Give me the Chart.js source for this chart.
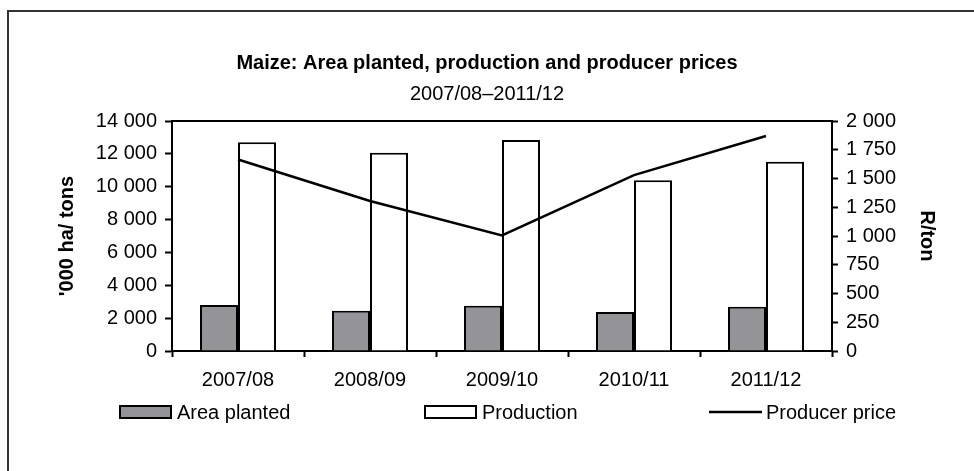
<!DOCTYPE html>
<html>
<head>
<meta charset="utf-8">
<script src="https://cdn.jsdelivr.net/npm/chart.js@4/dist/chart.umd.min.js"></script>
<style>
  html, body { margin: 0; padding: 0; background: #fff; }
  #wrap { position: relative; width: 974px; height: 471px; }
</style>
</head>
<body>
<div id="wrap"><canvas id="maizeChart" width="974" height="471"></canvas></div>
<script>
// seasons on the x axis
const seasons = ["2007/08", "2008/09", "2009/10", "2010/11", "2011/12"];
// '000 ha / '000 tons (left axis)
const areaPlanted = [2800, 2450, 2750, 2380, 2700];
const production = [12700, 12070, 12850, 10400, 11520];
// R/ton (right axis)
const producerPrice = [1665, 1305, 1005, 1530, 1870];

const leftTicks = [0, 2000, 4000, 6000, 8000, 10000, 12000, 14000];
const rightTicks = [0, 250, 500, 750, 1000, 1250, 1500, 1750, 2000];

const FONT = "'Liberation Sans', Arial, sans-serif";
Chart.defaults.font.family = FONT;
Chart.defaults.color = '#000';

function spaced(v) {
    return String(v).replace(/\B(?=(\d{3})+(?!\d))/g, ' ');
}

// outer frame + top edge of the plot area + legend
const extras = {
    id: 'extras',
    beforeDraw(chart) {
        const ctx = chart.ctx;
        ctx.save();
        ctx.strokeStyle = '#333';
        ctx.lineWidth = 2;
        ctx.beginPath();
        ctx.moveTo(8, 480);
        ctx.lineTo(8, 11);
        ctx.lineTo(980, 11);
        ctx.stroke();
        ctx.restore();
    },
    afterDraw(chart) {
        const ctx = chart.ctx;
        const a = chart.chartArea;
        ctx.save();
        ctx.strokeStyle = '#000';
        ctx.lineWidth = 2;
        ctx.beginPath();
        ctx.moveTo(a.left, a.top);
        ctx.lineTo(a.right, a.top);
        ctx.stroke();

        // legend
        const y = 412;
        const items = [
            { x: 120, ds: chart.data.datasets[1] },
            { x: 425, ds: chart.data.datasets[2] },
            { x: 709, ds: chart.data.datasets[0] }
        ];
        ctx.font = '20px ' + FONT;
        ctx.textBaseline = 'middle';
        items.forEach(it => {
            if (it.ds.type === 'line') {
                ctx.strokeStyle = '#000';
                ctx.lineWidth = 2.5;
                ctx.beginPath();
                ctx.moveTo(it.x, y);
                ctx.lineTo(it.x + 53, y);
                ctx.stroke();
            } else {
                ctx.fillStyle = it.ds.backgroundColor;
                ctx.fillRect(it.x, y - 6, 51, 12);
                ctx.strokeStyle = '#000';
                ctx.lineWidth = 2;
                ctx.strokeRect(it.x, y - 6, 51, 12);
            }
            ctx.fillStyle = '#000';
            ctx.fillText(it.ds.label, it.x + 57, y + 1);
        });
        ctx.restore();
    }
};

const el = document.getElementById("maizeChart");
let maizeChart = new Chart(el, {
    data: {
        labels: seasons,
        datasets: [{
            type: 'line',
            label: 'Producer price',
            data: producerPrice,
            yAxisID: 'y1',
            borderColor: '#000',
            borderWidth: 2.5,
            pointRadius: 0,
            tension: 0,
            order: 0
        }, {
            type: 'bar',
            label: 'Area planted',
            data: areaPlanted,
            yAxisID: 'y',
            backgroundColor: '#939398',
            borderColor: '#000',
            borderWidth: 2,
            categoryPercentage: 0.576,
            barPercentage: 1,
            order: 1
        }, {
            type: 'bar',
            label: 'Production',
            data: production,
            yAxisID: 'y',
            backgroundColor: '#fff',
            borderColor: '#000',
            borderWidth: 2,
            categoryPercentage: 0.576,
            barPercentage: 1,
            order: 1
        }]
    },
    options: {
        responsive: false,
        animation: false,
        layout: { padding: 0 },
        plugins: {
            legend: { display: false },
            tooltip: { enabled: false },
            title: {
                display: true,
                text: 'Maize: Area planted, production and producer prices',
                font: { size: 20, weight: 'bold' },
                color: '#000',
                padding: { top: 51, bottom: 4 }
            },
            subtitle: {
                display: true,
                text: '2007/08–2011/12',
                font: { size: 20 },
                color: '#000',
                padding: { top: 3, bottom: 15 }
            }
        },
        scales: {
            x: {
                offset: true,
                grid: { drawOnChartArea: false, drawTicks: true, tickLength: 6, tickColor: '#000', tickWidth: 2 },
                border: { color: '#000', width: 2 },
                ticks: { font: { size: 20 }, padding: 11, maxRotation: 0 },
                afterFit(s) { s.height = 120; }
            },
            y: {
                position: 'left',
                min: 0,
                max: 14000,
                afterBuildTicks(s) { s.ticks = leftTicks.map(v => ({ value: v })); },
                grid: { drawOnChartArea: false, tickLength: 7, tickColor: '#000', tickWidth: 2 },
                border: { color: '#000', width: 2 },
                ticks: { font: { size: 20 }, padding: 8, callback: v => spaced(v) },
                title: {
                    display: true,
                    text: "'000 ha/ tons",
                    font: { size: 20, weight: 'bold' },
                    padding: { top: 55, bottom: 0 }
                },
                afterFit(s) { s.width = 172; }
            },
            y1: {
                position: 'right',
                min: 0,
                max: 2000,
                afterBuildTicks(s) { s.ticks = rightTicks.map(v => ({ value: v })); },
                grid: { drawOnChartArea: false, tickLength: 6, tickColor: '#000', tickWidth: 2 },
                border: { color: '#000', width: 2 },
                ticks: { font: { size: 20 }, padding: 8, callback: v => spaced(v) },
                title: {
                    display: true,
                    text: 'R/ton',
                    font: { size: 20, weight: 'bold' },
                    padding: { top: 35, bottom: 0 }
                },
                afterFit(s) { s.width = 142; }
            }
        }
    },
    plugins: [extras]
});
</script>
</body>
</html>
